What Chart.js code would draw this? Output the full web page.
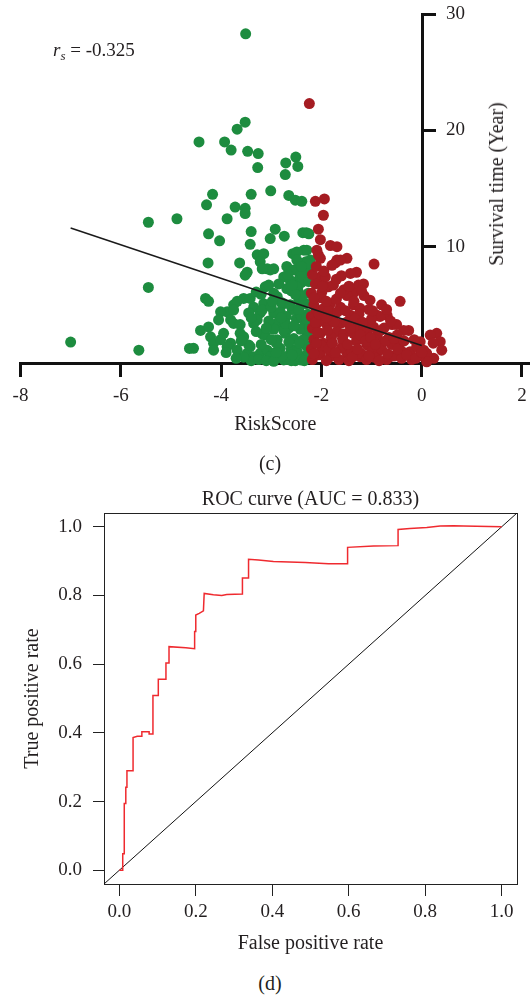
<!DOCTYPE html>
<html><head><meta charset="utf-8">
<script src="https://cdn.jsdelivr.net/npm/chart.js@4.4.1/dist/chart.umd.min.js"></script>
<style>
html,body{margin:0;padding:0;background:#fff;}
body{width:530px;height:996px;position:relative;overflow:hidden;}
canvas{position:absolute;left:0;}
.t{position:absolute;white-space:nowrap;font-family:'Liberation Serif','Times New Roman',serif;color:#231f20;line-height:1;}
.c{transform:translate(-50%,-50%);}
</style></head><body>
<canvas id="cAxis" width="530" height="440" style="top:0"></canvas>
<canvas id="cMain" width="530" height="440" style="top:0"></canvas>
<canvas id="dMain" width="530" height="500" style="top:470px"></canvas>
<div class="t" style="left:53px;top:40px;font-size:19px;line-height:20px;"><i>r</i><sub style="font-size:13px;line-height:0;vertical-align:-4px;"><i>s</i></sub> = -0.325</div>
<div class="t" style="left:496px;top:183.5px;font-size:20px;transform:translate(-50%,-50%) rotate(-90deg);">Survival time (Year)</div>
<div class="t c" style="left:270px;top:463px;font-size:20px;">(c)</div>
<div class="t c" style="left:270px;top:983px;font-size:20px;">(d)</div>
<script>
// ---------- Panel (c) data ----------
const greenX = [-3.51,-3.52,-3.68,-4.44,-3.93,-3.80,-3.47,-3.26,-3.27,-2.71,-2.51,-2.47,-2.72,
 -4.17,-3.40,-3.01,-2.65,-2.52,-4.29,-3.72,-3.52,-3.52,-3.88,-5.45,-4.88,
 -4.25,-4.03,-3.40,-3.42,-2.92,-3.02,-2.74,-2.37,-2.30,-3.28,-3.15,-3.22,-3.08,-3.02,
 -4.26,-3.63,-3.48,-3.52,-2.57,-2.35,-2.31,-2.69,-2.75,-2.55,-2.42,-2.46,-2.62,
 -5.45,-3.12,-2.69,-2.47,-4.31,-4.25,-3.55,-3.75,-3.88,-4.01,-4.05,-3.81,-4.41,-4.25,-4.21,
 -3.35,-3.22,-3.28,-3.35,-2.88,-2.75,-2.95,-2.82,-2.88,-3.75,-3.62,-3.18,
 -4.15,-4.01,-3.81,-4.63,-7.00,-5.64,-3.55,-3.42,-3.48,-3.35,-3.22,-3.08,
 -2.95,-2.82,-2.75,-2.88,-2.72,-3.05,-3.68,-3.42,-3.15,-3.75,-3.45,-3.18,-3.62,-2.85,
 -3.95,-3.12,-4.55,-4.15,-3.88,-3.68,-3.45,-3.02,-2.62,-2.49,-2.29,
 -2.25,-2.29,-2.22,-2.29,-2.39,-3.18,-2.95,-2.49,-2.49,-2.29,
 -2.68,-2.60,-2.55,-2.65,-2.50,-2.58,-2.45,-2.60,-2.40,-2.35,-2.30,-2.28,-2.33,-2.27,-2.31,-2.26,
 -2.38,-2.42,-2.48,-2.70,-2.75,-2.80,-2.90,-2.95,-3.00,-3.05,-2.85,-2.78,-2.52,-2.40,-2.36,-2.26,
 -2.24,-2.25,-2.50,-2.62,-3.40,-3.25,-3.10,-2.95,-2.60,-2.40,-3.55,-2.95,-3.20,
 -2.58,-2.65,-2.72,-2.55,-2.45,-2.38,-2.34,-2.44,-2.30,-2.52,-2.67,-2.90,-3.00,-3.10,-3.20,
 -3.30,-3.40,-3.60,-3.70,-3.90,-2.80,-2.40,-2.58,-2.98,-3.30];
const greenY = [28.3,20.7,20.1,19.0,19.0,18.3,18.2,18.0,16.8,17.2,17.7,16.9,16.2,
 14.5,14.5,14.8,14.4,14.0,13.6,13.4,13.3,12.85,12.4,12.1,12.4,
 11.1,10.5,11.3,10.2,11.5,10.7,10.9,11.2,11.2,9.3,9.4,8.7,8.1,8.0,
 8.6,8.6,7.8,7.55,9.4,9.7,8.7,8.3,7.4,8.0,7.55,7.1,7.1,
 6.5,6.55,6.4,6.3,5.55,5.3,5.55,5.0,4.4,4.4,3.7,3.7,2.8,3.1,2.25,
 4.8,4.3,3.7,3.4,5.7,5.1,4.3,4.4,3.4,3.4,2.55,2.5,
 1.7,2.0,1.7,1.25,1.8,1.1,2.25,1.4,0.83,0.54,0.83,1.1,
 0.83,1.26,0.26,2.0,2.55,6.7,5.3,5.55,5.1,4.55,4.3,4.55,3.3,3.55,
 2.55,2.4,1.26,1.1,1.4,1.1,1.55,0.54,0.83,0.54,0.69,
 11.1,9.7,8.85,8.0,13.9,8.1,8.1,9.55,8.85,8.55,
 0.3,1.2,2.1,3.0,3.8,4.6,5.4,6.2,6.9,0.5,1.5,2.4,3.3,4.2,5.1,6.0,
 7.6,2.9,1.0,4.0,2.8,5.2,1.7,2.9,4.8,3.6,6.8,0.6,0.2,4.0,2.0,0.9,
 3.0,7.0,6.6,5.0,0.2,0.3,0.2,0.15,0.2,0.25,0.5,6.0,5.9,
 0.7,1.8,3.4,3.2,4.6,5.8,0.2,1.7,3.8,5.9,7.6,0.9,2.0,3.0,1.6,
 2.7,3.9,1.9,0.4,0.9,3.9,8.3,6.7,5.3,6.1];
const redX = [-2.24,-2.12,-1.94,-1.96,-2.06,-2.02,-1.82,-1.69,
 -2.09,-2.06,-2.02,-1.69,-1.49,-1.72,-1.62,-1.79,
 -0.95,-1.30,-1.42,-2.02,-1.92,-1.86,-1.26,-1.36,-0.43,-1.76,-1.16,
 -1.99,-1.49,-1.03,-1.82,-1.36,-1.62,-1.23,
 -2.02,-1.76,-1.42,-0.89,-0.69,-2.09,-1.89,-1.62,-1.09,-0.59,-0.26,-0.36,
 -2.02,-1.69,-1.36,-0.89,-0.49,-1.96,-1.56,-1.09,-0.76,-0.43,-0.03,
 0.30,0.37,0.40,-2.02,-1.82,-1.49,-1.23,-0.89,-0.63,-0.23,0.04,0.24,
 0.17,0.23,0.10,0.10,-0.10,-0.39,-0.83,-0.96,-1.09,
 -2.18,-2.20,-2.15,-2.18,-2.20,-2.15,-2.20,-2.12,-2.18,-2.10,-2.05,-2.00,-2.08,-2.05,-2.10,-2.00,
 -1.95,-1.90,-1.85,-1.80,-1.85,-1.70,-1.75,-1.65,-1.60,-1.55,-1.50,-1.45,-1.40,-1.30,-1.30,-1.25,
 -1.20,-1.10,-1.15,-1.00,-1.00,-0.95,-0.80,-0.75,-0.70,-0.60,-0.55,-0.50,-0.40,-1.35,-1.55,-1.70,
 -1.95,-1.15,-0.80,-0.20,-0.05,-1.05,-0.65,
 -2.15,-2.10,-2.12,-2.05,-2.15,-1.98,-1.90,-1.88,-1.78,-1.72,-1.68,-1.62,-1.58,-1.52,-1.48,-1.42,
 -1.38,-1.33,-1.28,-1.22,-1.18,-1.12,-1.05,-1.02,-0.98,-0.92,-0.85,-0.82,-0.72,-0.68,-0.62,-0.55,
 -0.48,-0.35,-0.30,-0.15,-0.12,0.00,-1.90,-1.60,-1.45,-1.20,-0.70];
const redY = [22.3,13.9,14.1,12.7,11.5,10.6,10.1,10.0,
 9.7,9.3,9.0,8.85,9.0,8.6,8.85,8.4,
 8.5,7.8,7.7,7.4,7.4,6.55,6.7,6.0,5.3,6.7,6.8,
 6.1,5.8,5.4,5.1,5.0,4.8,4.7,
 4.3,4.0,4.1,4.1,4.1,3.4,3.3,3.4,3.4,3.3,2.8,2.8,
 2.55,2.7,2.55,2.4,2.4,1.7,1.83,1.55,1.83,1.7,1.83,
 2.55,1.83,1.1,0.83,0.54,0.83,0.54,0.83,0.54,0.97,1.1,0.4,
 2.4,1.7,0.83,0.1,1.4,0.97,4.0,3.1,2.55,
 0.3,1.2,2.0,3.0,4.0,5.0,6.0,6.8,7.6,8.3,0.7,1.5,2.6,3.6,4.6,5.6,
 4.7,0.2,1.2,2.2,4.5,5.5,3.5,0.3,1.3,2.5,3.5,0.2,1.0,1.9,3.0,4.2,
 0.8,0.3,2.9,1.0,3.8,0.5,1.2,3.0,0.3,1.6,0.6,3.3,0.4,5.3,6.3,7.2,
 7.9,5.8,5.0,0.3,0.6,4.6,2.2,
 0.8,1.7,3.5,4.2,5.6,6.6,3.9,2.8,1.7,0.9,4.4,6.0,2.1,4.5,1.6,3.0,
 0.5,3.8,1.2,2.4,3.5,1.9,0.6,2.2,4.5,1.6,0.2,2.8,1.9,0.8,3.6,2.1,
 1.2,1.9,0.7,2.0,0.4,0.9,5.3,7.5,6.6,6.2,4.6];
const fitX = [-7.0, 0.0];
const fitY = [11.6, 1.5];
const cXTicks = [-8,-6,-4,-2,0,2];
const cYTicks = [10,20,30];

// ---------- Panel (d) data ----------
const rocFPR = [0,0.009,0.009,0.013,0.013,0.017,0.017,0.020,0.020,0.036,0.036,0.047,0.059,0.059,0.078,0.078,0.088,0.088,
 0.102,0.102,0.122,0.122,0.130,0.130,0.174,0.197,0.197,0.200,0.200,0.209,0.220,0.222,0.246,0.268,0.281,0.322,0.322,
 0.338,0.338,0.364,0.403,0.486,0.547,0.597,0.597,0.665,0.729,0.729,0.760,0.804,0.839,0.874,0.900,1.000];
const rocTPR = [0,0,0.048,0.048,0.194,0.194,0.242,0.242,0.290,0.290,0.386,0.390,0.390,0.403,0.403,0.397,0.397,0.509,
 0.509,0.556,0.556,0.603,0.603,0.651,0.648,0.645,0.695,0.695,0.743,0.748,0.755,0.806,0.802,0.800,0.803,0.804,0.851,
 0.851,0.905,0.903,0.899,0.896,0.892,0.892,0.940,0.944,0.945,0.992,0.995,0.998,1.002,1.003,1.0025,1.000];
const diagX = [-0.04, 1.04];
const diagY = [-0.04, 1.04];
const dTicks = [0,0.2,0.4,0.6,0.8,1.0];

const FAM = "'Liberation Serif','Times New Roman',serif";
const TXT = '#231f20';
const AX = '#111';
const GREEN = '#1d8c3f';
const RED = '#a51c22';
const pts = (xs, ys) => xs.map((x, i) => ({x, y: ys[i]}));
const setTicks = arr => s => { s.ticks = arr.map(v => ({value: v})); };
const base = {responsive:false, animation:false, devicePixelRatio:1, events:[],
  plugins:{legend:{display:false}, tooltip:{enabled:false}}};

// Right-side y axis of panel (c)
new Chart(document.getElementById('cAxis'), {
  type:'scatter', data:{datasets:[]},
  options:Object.assign({}, base, {
    layout:{autoPadding:false, padding:{left:0,right:0,top:14,bottom:77}},
    scales:{
      x:{type:'linear', min:-8, max:0, display:false},
      y:{type:'linear', position:'right', min:0, max:30,
         afterBuildTicks:setTicks(cYTicks), afterFit:s=>{s.width=108; s.paddingTop=0; s.paddingBottom=0;},
         ticks:{padding:10, color:TXT, font:{family:FAM,size:19}, callback:v=>String(v)},
         grid:{drawOnChartArea:false, tickLength:14, tickWidth:3, tickColor:AX},
         border:{display:true, width:3, color:AX}}
    }
  })
});

// Scatter of panel (c)
new Chart(document.getElementById('cMain'), {
  type:'scatter',
  data:{datasets:[
    {data:pts(fitX, fitY), showLine:true, borderColor:'#1a1a1a', borderWidth:1.5, pointRadius:0, clip:false},
    {data:pts(redX, redY), backgroundColor:RED, borderWidth:0, pointRadius:5.5, clip:false},
    {data:pts(greenX, greenY), backgroundColor:GREEN, borderWidth:0, pointRadius:5.5, clip:false}
  ]},
  options:Object.assign({}, base, {
    layout:{autoPadding:false, padding:{left:20.5,right:0,top:14,bottom:0}},
    scales:{
      x:{type:'linear', position:'bottom', min:-8, max:2.16,
         afterBuildTicks:setTicks(cXTicks), afterFit:s=>{s.height=77; s.paddingLeft=0; s.paddingRight=0;},
         ticks:{padding:8, color:TXT, font:{family:FAM,size:19}, maxRotation:0, autoSkip:false, callback:v=>String(v)},
         grid:{drawOnChartArea:false, tickLength:14, tickWidth:3, tickColor:AX},
         border:{display:true, width:3, color:AX},
         title:{display:true, text:'RiskScore', color:TXT, font:{family:FAM,size:20}, padding:{top:0,bottom:3}}},
      y:{type:'linear', min:0, max:30, display:false}
    }
  })
});

// ROC panel (d)
new Chart(document.getElementById('dMain'), {
  type:'scatter',
  data:{datasets:[
    {data:pts(rocFPR, rocTPR), showLine:true, borderColor:'#ef2a2f', borderWidth:1.5, pointRadius:0},
    {data:pts(diagX, diagY), showLine:true, borderColor:'#111', borderWidth:1, pointRadius:0}
  ]},
  options:Object.assign({}, base, {
    layout:{autoPadding:false, padding:{left:0,right:13,top:0,bottom:0}},
    plugins:{legend:{display:false}, tooltip:{enabled:false},
      title:{display:true, text:'ROC curve (AUC = 0.833)', fullSize:false, color:TXT,
             font:{family:FAM,size:20,weight:'normal'}, padding:{top:18,bottom:1}}},
    scales:{
      x:{type:'linear', position:'bottom', min:-0.04, max:1.04,
         afterBuildTicks:setTicks(dTicks), afterFit:s=>{s.height=86; s.paddingLeft=0; s.paddingRight=0;},
         ticks:{padding:5, color:TXT, font:{family:FAM,size:19}, maxRotation:0, autoSkip:false, callback:v=>v.toFixed(1)},
         grid:{drawOnChartArea:false, tickLength:12, tickWidth:1, tickColor:'#222'},
         border:{display:true, width:1, color:'#222'},
         title:{display:true, text:'False positive rate', color:TXT, font:{family:FAM,size:20}, padding:{top:0,bottom:14}}},
      y:{type:'linear', position:'left', min:-0.04, max:1.04,
         afterBuildTicks:setTicks(dTicks), afterFit:s=>{s.width=104; s.paddingTop=0; s.paddingBottom=0;},
         ticks:{padding:11, color:TXT, font:{family:FAM,size:19}, autoSkip:false, callback:v=>v.toFixed(1)},
         grid:{drawOnChartArea:false, tickLength:11, tickWidth:1, tickColor:'#222'},
         border:{display:true, width:1, color:'#222'},
         title:{display:true, text:'True positive rate', color:TXT, font:{family:FAM,size:20}, padding:{top:21,bottom:0}}},
      x2:{type:'linear', position:'top', display:true, min:0, max:1,
         ticks:{display:false}, grid:{drawOnChartArea:false, drawTicks:false, tickLength:0},
         border:{display:true, width:1, color:'#222'}, afterFit:s=>{s.height=0; s.paddingLeft=0; s.paddingRight=0;}},
      y2:{type:'linear', position:'right', display:true, min:0, max:1,
         ticks:{display:false}, grid:{drawOnChartArea:false, drawTicks:false, tickLength:0},
         border:{display:true, width:1, color:'#222'}, afterFit:s=>{s.width=0; s.paddingTop=0; s.paddingBottom=0;}}
    }
  })
});
</script>
</body></html>
